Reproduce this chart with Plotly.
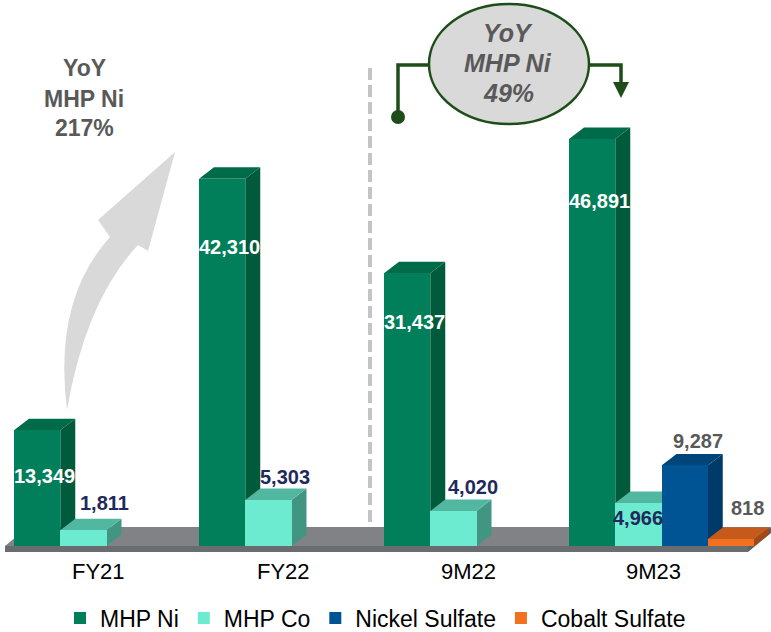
import plotly.graph_objects as go

# ---------------- data ----------------
categories = ["FY21", "FY22", "9M22", "9M23"]
series_names = ["MHP Ni", "MHP Co", "Nickel Sulfate", "Cobalt Sulfate"]
mhp_ni = [13349, 42310, 31437, 46891]
mhp_co = [1811, 5303, 4020, 4966]
nickel_sulfate = [None, None, None, 9287]
cobalt_sulfate = [None, None, None, 818]
yoy_left_lines = ["YoY", "MHP Ni", "217%"]
yoy_right_lines = ["YoY", "MHP Ni", "49%"]

# ---------------- styles ----------------
front = ["#007F5A", "#6CEBD0", "#005493", "#F37021"]
top_c = ["#006B48", "#52B7A0", "#00457A", "#C55A1B"]
side_c = ["#005A3C", "#409680", "#003A68", "#A24A16"]
label_col = ["#FFFFFF", "#1F2A5C", "#595959", "#595959"]
# per-series label offsets (px) for each category
label_dx = [[7, 7, 7, 7], [21, 17, 20, 0], [0, 0, 0, 13], [0, 0, 0, 17]]
label_dy = [[-46, -68, -49, -62], [27, 23, 24, -15], [0, 0, 0, 24], [0, 0, 0, 31]]
FONT = "Arial, Liberation Sans, sans-serif"

W, H = 771, 632
PLOT_H = H            # plot area covers the whole figure
BASE_PX = 546         # px row of y=0
K = 0.00868           # px per unit
X0_PX = 14            # px column of x=-0.5
CAT_PX = 185          # px per category

def px2x(p):
    return -0.5 + (p - X0_PX) / CAT_PX

def px2y(p):
    return (BASE_PX - p) / K

DX = 15 / CAT_PX
DY = 11.5 / K
n_series = 4
slot = 1.0 / n_series
values = [mhp_ni, mhp_co, nickel_sulfate, cobalt_sulfate]

shapes = []

def poly(pts):
    return "M " + " L ".join(f"{x},{y}" for x, y in pts) + " Z"

# floor
floor_top = [(px2x(5), px2y(546)), (px2x(28), px2y(527)), (px2x(771), px2y(527)), (px2x(748), px2y(546))]
floor_lip = [(px2x(5), px2y(546)), (px2x(748), px2y(546)), (px2x(748), px2y(552)), (px2x(5), px2y(552))]
floor_rside = [(px2x(748), px2y(546)), (px2x(771), px2y(527)), (px2x(771), px2y(533)), (px2x(748), px2y(552))]
shapes.append(dict(type="path", path=poly(floor_top), fillcolor="#808285", line=dict(width=0), layer="below"))
shapes.append(dict(type="path", path=poly(floor_lip), fillcolor="#6A6D70", line=dict(width=0), layer="below"))
shapes.append(dict(type="path", path=poly(floor_rside), fillcolor="#5E6164", line=dict(width=0), layer="below"))

# 3D side and top faces, drawn left to right
for i in range(len(categories)):
    for s in range(n_series):
        v = values[s][i]
        if v is None:
            continue
        xl = i - 0.5 + slot * s
        xr = xl + slot
        side = [(xr, 0), (xr + DX, DY), (xr + DX, v + DY), (xr, v)]
        top = [(xl, v), (xl + DX, v + DY), (xr + DX, v + DY), (xr, v)]
        shapes.append(dict(type="path", path=poly(side), fillcolor=side_c[s], line=dict(width=0), layer="below"))
        shapes.append(dict(type="path", path=poly(top), fillcolor=top_c[s], line=dict(width=0), layer="below"))

# dashed divider
shapes.append(dict(type="line", x0=px2x(370), x1=px2x(370), y0=px2y(68), y1=px2y(522),
                   line=dict(color="#C4C4C8", width=4, dash="12px,5px"), layer="below"))

# curved grey arrow (left)
arrow = (f"M {px2x(67)},{px2y(410)} Q {px2x(53)},{px2y(300)} {px2x(110)},{px2y(237)} "
         f"L {px2x(98)},{px2y(220)} L {px2x(175)},{px2y(152)} L {px2x(148)},{px2y(251)} "
         f"L {px2x(138)},{px2y(245)} Q {px2x(86)},{px2y(300)} {px2x(67)},{px2y(410)} Z")
shapes.append(dict(type="path", path=arrow, fillcolor="#D9D9D9", line=dict(width=0), layer="below"))

# callout ellipse and connectors
GREEN = "#1E4D1A"
shapes.append(dict(type="path",
                   path=f"M {px2x(430)},{px2y(65)} L {px2x(398)},{px2y(65)} L {px2x(398)},{px2y(115)}",
                   line=dict(color=GREEN, width=3.5)))
shapes.append(dict(type="circle", x0=px2x(391), x1=px2x(405), y0=px2y(110), y1=px2y(124),
                   fillcolor=GREEN, line=dict(color=GREEN, width=0)))
shapes.append(dict(type="path",
                   path=f"M {px2x(588)},{px2y(65)} L {px2x(621)},{px2y(65)} L {px2x(621)},{px2y(84)}",
                   line=dict(color=GREEN, width=3.5)))
shapes.append(dict(type="path",
                   path=poly([(px2x(613), px2y(82)), (px2x(629), px2y(82)), (px2x(621), px2y(98))]),
                   fillcolor=GREEN, line=dict(width=0)))
shapes.append(dict(type="circle", x0=px2x(429), x1=px2x(589), y0=px2y(4), y1=px2y(124),
                   fillcolor="#D9D9D9", line=dict(color=GREEN, width=2.5)))

fig = go.Figure()
for s in range(n_series):
    fig.add_trace(go.Bar(
        x=categories, y=values[s], name=series_names[s],
        marker=dict(color=front[s], line=dict(width=0)),
        hoverinfo="skip",
    ))

annotations = []
# data labels
for s in range(n_series):
    for i in range(len(categories)):
        v = values[s][i]
        if v is None:
            continue
        annotations.append(dict(
            x=i - 0.5 + slot * (s + 0.5), y=v, xref="x", yref="y",
            text=f"<b>{v:,}</b>", showarrow=False,
            xanchor="center", yanchor="middle",
            xshift=label_dx[s][i], yshift=label_dy[s][i],
            font=dict(family=FONT, size=20, color=label_col[s]),
        ))
# category labels
for i, c in enumerate(categories):
    annotations.append(dict(
        x=i, y=0, xref="x", yref="y", text=c, showarrow=False,
        xanchor="center", yanchor="middle", xshift=-8, yshift=-25,
        font=dict(family=FONT, size=22, color="#000000"),
    ))
# YoY texts (one annotation per line to control spacing)
for line_txt, ypx in zip(yoy_left_lines, [68, 99, 128]):
    annotations.append(dict(
        x=px2x(84), y=px2y(ypx), xref="x", yref="y",
        text=f"<b>{line_txt}</b>", showarrow=False,
        xanchor="center", yanchor="middle",
        font=dict(family=FONT, size=23, color="#595959"),
    ))
for line_txt, ypx in zip(yoy_right_lines, [33, 63, 93]):
    annotations.append(dict(
        x=px2x(508), y=px2y(ypx), xref="x", yref="y",
        text=f"<b><i>{line_txt}</i></b>", showarrow=False,
        xanchor="center", yanchor="middle",
        font=dict(family=FONT, size=25, color="#595959"),
    ))

fig.update_layout(
    width=W, height=H,
    margin=dict(l=0, r=0, t=0, b=0, autoexpand=False),
    paper_bgcolor="white", plot_bgcolor="rgba(0,0,0,0)",
    barmode="group", bargap=0, bargroupgap=0,
    shapes=shapes, annotations=annotations,
    showlegend=True,
    legend=dict(orientation="h", x=0.5 - 10 / W, xanchor="center",
                xref="container", yref="container",
                y=(H - 618) / H, yanchor="middle",
                font=dict(family=FONT, size=23, color="#000000"),
                itemclick=False, itemdoubleclick=False),
    xaxis=dict(range=[px2x(0), px2x(W)], showticklabels=False, showgrid=False,
               zeroline=False, showline=False, ticks="", fixedrange=True),
    yaxis=dict(range=[px2y(PLOT_H), px2y(0)], showticklabels=False, showgrid=False,
               zeroline=False, showline=False, ticks="", fixedrange=True),
)

fig.write_html("out.html", config={"displayModeBar": False},
               post_script="document.body.style.margin='0';document.body.style.overflow='hidden';")
